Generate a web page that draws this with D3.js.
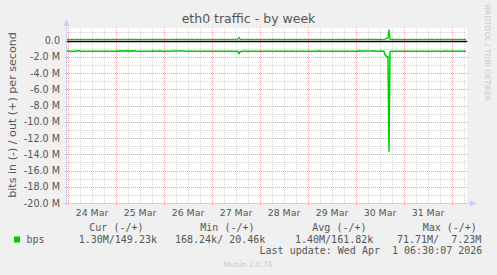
<!DOCTYPE html>
<html>
<head>
<meta charset="utf-8">
<script src="https://cdn.jsdelivr.net/npm/d3@7"></script>
<style>
  body { margin: 0; background: #f0f0f0; }
  svg { display: block; }
  text { font-family: "DejaVu Sans", sans-serif; fill: #555; }
  .mono { font-family: "DejaVu Sans Mono", monospace; }
</style>
</head>
<body>
<svg id="chart"></svg>
<script>
// 30 minute averages, Mbit/s, first sample at startTime
const startTime = new Date(Date.UTC(2026, 2, 23, 23, 30))
const stepMinutes = 30

// bits in (drawn below zero)
const inMbps = [
  1.32, 1.24, 1.32, 1.32, 1.33, 1.32, 1.31, 1.32, 1.33, 1.32, 1.24, 1.25, 1.24, 1.31, 1.32, 1.33, 1.32, 1.32, 1.31, 1.32, 1.33, 1.32, 1.32, 1.31, 1.32, 1.32, 1.33, 1.32, 1.31, 1.32, 1.32, 1.33, 1.32, 1.32, 1.31, 1.32, 1.33, 1.32, 1.32, 1.32, 1.31, 1.32, 1.33, 1.32, 1.32, 1.31, 1.32, 1.32, 1.33, 1.32,
  1.25, 1.32, 1.25, 1.31, 1.24, 1.32, 1.25, 1.24, 1.32, 1.25, 1.32, 1.24, 1.32, 1.25, 1.31, 1.24, 1.32, 1.25, 1.24, 1.32, 1.33, 1.32, 1.31, 1.32, 1.32, 1.33, 1.32, 1.31, 1.32, 1.32, 1.33, 1.32, 1.32, 1.31, 1.32, 1.33, 1.25, 1.32, 1.32, 1.31, 1.32, 1.32, 1.33, 1.25, 1.32, 1.31, 1.32, 1.33, 1.32, 1.32,
  1.32, 1.31, 1.32, 1.33, 1.29, 1.29, 1.29, 1.29, 1.29, 1.29, 1.29, 1.29, 1.29, 1.29, 1.29, 1.29, 1.29, 1.29, 1.29, 1.32, 1.33, 1.32, 1.31, 1.32, 1.32, 1.33, 1.32, 1.31, 1.32, 1.32, 1.33, 1.32, 1.32, 1.31, 1.32, 1.33, 1.32, 1.32, 1.31, 1.32, 1.32, 1.33, 1.32, 1.31, 1.32, 1.32, 1.33, 1.32, 1.32, 1.31,
  1.32, 1.33, 1.32, 1.31, 1.32, 1.32, 1.33, 1.32, 1.32, 1.31, 1.32, 1.33, 1.32, 1.32, 1.31, 1.32, 1.32, 1.33, 1.32, 1.31, 1.32, 1.38, 1.60, 1.36, 1.32, 1.33, 1.32, 1.31, 1.32, 1.32, 1.33, 1.32, 1.32, 1.31, 1.32, 1.33, 1.32, 1.32, 1.31, 1.32, 1.32, 1.33, 1.32, 1.31, 1.32, 1.32, 1.33, 1.32, 1.32, 1.31,
  1.32, 1.33, 1.32, 1.32, 1.31, 1.32, 1.33, 1.32, 1.32, 1.31, 1.32, 1.32, 1.33, 1.32, 1.31, 1.32, 1.32, 1.33, 1.32, 1.32, 1.31, 1.32, 1.33, 1.32, 1.32, 1.31, 1.32, 1.32, 1.33, 1.32, 1.31, 1.32, 1.32, 1.33, 1.32, 1.32, 1.31, 1.32, 1.33, 1.32, 1.32, 1.31, 1.32, 1.32, 1.33, 1.32, 1.31, 1.32, 1.32, 1.33,
  1.32, 1.24, 1.32, 1.31, 1.32, 1.32, 1.33, 1.32, 1.32, 1.31, 1.32, 1.33, 1.32, 1.32, 1.31, 1.32, 1.32, 1.33, 1.32, 1.31, 1.32, 1.32, 1.33, 1.32, 1.32, 1.31, 1.32, 1.33, 1.32, 1.32, 1.31, 1.32, 1.32, 1.33, 1.32, 1.31, 1.32, 1.32, 1.33, 1.32, 1.32, 1.31, 1.24, 1.32, 1.28, 1.28, 1.28, 1.28, 1.28, 1.28,
  1.28, 1.28, 1.28, 1.28, 1.28, 1.28, 1.28, 1.28, 1.32, 1.32, 1.31, 1.32, 1.33, 1.32, 1.24, 1.32, 1.31, 1.32, 1.75, 1.85, 2.00, 1.98, 13.70, 1.40, 1.32, 1.32, 1.33, 1.32, 1.31, 1.32, 1.32, 1.33, 1.32, 1.32, 1.31, 1.32, 1.33, 1.32, 1.32, 1.31, 1.32, 1.32, 1.33, 1.32, 1.31, 1.32, 1.32, 1.33, 1.32, 1.32,
  1.32, 1.31, 1.32, 1.33, 1.32, 1.32, 1.31, 1.32, 1.32, 1.33, 1.32, 1.31, 1.32, 1.32, 1.33, 1.32, 1.32, 1.31, 1.32, 1.33, 1.32, 1.32, 1.31, 1.32, 1.32, 1.33, 1.32, 1.31, 1.32, 1.25, 1.32, 1.33, 1.32, 1.32, 1.31, 1.25, 1.32, 1.32, 1.33, 1.32, 1.31, 1.32, 1.32, 1.33, 1.32, 1.32, 1.31, 1.32, 1.32, 1.30
]

// bits out (drawn above zero)
const outMbps = [
  0.14, 0.15, 0.14, 0.13, 0.14, 0.14, 0.15, 0.14, 0.13, 0.14, 0.15, 0.14, 0.14, 0.13, 0.14, 0.15, 0.14, 0.14, 0.13, 0.14, 0.14, 0.15, 0.14, 0.13, 0.14, 0.14, 0.15, 0.14, 0.13, 0.14, 0.14, 0.15, 0.14, 0.14, 0.13, 0.14, 0.15, 0.14, 0.14, 0.13, 0.14, 0.14, 0.15, 0.14, 0.13, 0.14, 0.14, 0.15, 0.14, 0.14,
  0.15, 0.14, 0.15, 0.14, 0.16, 0.14, 0.15, 0.14, 0.15, 0.16, 0.14, 0.15, 0.14, 0.15, 0.14, 0.16, 0.15, 0.14, 0.15, 0.14, 0.14, 0.13, 0.14, 0.15, 0.14, 0.14, 0.13, 0.14, 0.14, 0.15, 0.14, 0.13, 0.14, 0.14, 0.15, 0.14, 0.15, 0.14, 0.13, 0.14, 0.14, 0.15, 0.14, 0.15, 0.14, 0.13, 0.14, 0.14, 0.15, 0.14,
  0.14, 0.13, 0.14, 0.15, 0.14, 0.14, 0.14, 0.14, 0.14, 0.14, 0.14, 0.14, 0.14, 0.14, 0.14, 0.14, 0.14, 0.14, 0.14, 0.14, 0.15, 0.14, 0.13, 0.14, 0.14, 0.15, 0.14, 0.13, 0.14, 0.14, 0.15, 0.14, 0.14, 0.13, 0.14, 0.15, 0.14, 0.14, 0.13, 0.14, 0.14, 0.15, 0.14, 0.13, 0.14, 0.14, 0.15, 0.14, 0.14, 0.13,
  0.14, 0.15, 0.14, 0.13, 0.14, 0.14, 0.15, 0.14, 0.14, 0.13, 0.14, 0.15, 0.14, 0.14, 0.13, 0.14, 0.14, 0.15, 0.14, 0.13, 0.14, 0.20, 0.36, 0.18, 0.14, 0.15, 0.14, 0.13, 0.14, 0.14, 0.15, 0.14, 0.14, 0.13, 0.14, 0.15, 0.14, 0.14, 0.13, 0.14, 0.14, 0.15, 0.14, 0.13, 0.14, 0.14, 0.15, 0.14, 0.14, 0.13,
  0.14, 0.15, 0.14, 0.14, 0.13, 0.14, 0.15, 0.14, 0.14, 0.13, 0.14, 0.14, 0.15, 0.14, 0.13, 0.14, 0.14, 0.15, 0.14, 0.14, 0.13, 0.14, 0.15, 0.14, 0.14, 0.13, 0.14, 0.14, 0.15, 0.14, 0.13, 0.14, 0.14, 0.15, 0.14, 0.14, 0.13, 0.14, 0.15, 0.14, 0.14, 0.13, 0.14, 0.14, 0.15, 0.14, 0.13, 0.14, 0.14, 0.15,
  0.14, 0.15, 0.14, 0.13, 0.14, 0.14, 0.15, 0.14, 0.14, 0.13, 0.14, 0.15, 0.14, 0.14, 0.13, 0.14, 0.14, 0.15, 0.14, 0.13, 0.14, 0.14, 0.15, 0.14, 0.14, 0.13, 0.14, 0.15, 0.14, 0.14, 0.13, 0.14, 0.14, 0.15, 0.14, 0.13, 0.14, 0.14, 0.15, 0.14, 0.14, 0.13, 0.15, 0.14, 0.15, 0.15, 0.15, 0.15, 0.15, 0.15,
  0.15, 0.15, 0.15, 0.15, 0.15, 0.15, 0.15, 0.15, 0.14, 0.14, 0.13, 0.14, 0.15, 0.14, 0.15, 0.14, 0.13, 0.14, 0.16, 0.24, 0.26, 0.27, 1.36, 0.15, 0.14, 0.14, 0.15, 0.14, 0.13, 0.14, 0.14, 0.15, 0.14, 0.14, 0.13, 0.14, 0.15, 0.14, 0.14, 0.13, 0.14, 0.14, 0.15, 0.14, 0.13, 0.14, 0.14, 0.15, 0.14, 0.14,
  0.14, 0.13, 0.14, 0.15, 0.14, 0.14, 0.13, 0.14, 0.14, 0.15, 0.14, 0.13, 0.14, 0.14, 0.15, 0.14, 0.14, 0.13, 0.14, 0.15, 0.14, 0.14, 0.13, 0.14, 0.14, 0.15, 0.14, 0.13, 0.14, 0.15, 0.14, 0.15, 0.14, 0.14, 0.13, 0.15, 0.14, 0.14, 0.15, 0.14, 0.13, 0.14, 0.14, 0.15, 0.14, 0.14, 0.13, 0.14, 0.14, 0.15
]

const yTicks = [0, -2, -4, -6, -8, -10, -12, -14, -16, -18, -20]
const legendHeaders = ['Cur (-/+)', 'Min (-/+)', 'Avg (-/+)', 'Max (-/+)']
const legendValues = ['1.30M/149.23k', '168.24k/ 20.46k', '1.40M/161.82k', '71.71M/  7.23M']
const lastUpdate = 'Last update: Wed Apr  1 06:30:07 2026'

const width = 497
const height = 275
const plot = { left: 67, right: 467, top: 28, bottom: 203 }
const green = '#00cc00'
const axisColor = '#c8cef4'

const svg = d3.select('#chart')
  .attr('width', width)
  .attr('height', height)

svg.append('rect')
  .attr('width', width).attr('height', height)
  .attr('fill', '#f0f0f0')

const x = d3.scaleUtc()
  .domain([startTime, new Date(+startTime + 400 * stepMinutes * 60000)])
  .range([plot.left, plot.right])

const y = d3.scaleLinear()
  .domain([-20, 1.55])
  .range([plot.bottom, plot.top])

const timeAt = i => new Date(+startTime + i * stepMinutes * 60000)

// canvas
svg.append('rect')
  .attr('x', plot.left).attr('y', plot.top)
  .attr('width', plot.right - plot.left)
  .attr('height', plot.bottom - plot.top)
  .attr('fill', '#ffffff')

const px = v => Math.round(v) + 0.5

// minor grid
const grid = svg.append('g')
y.ticks(22).filter(v => v % 2 !== 0).forEach(v => {
  grid.append('line')
    .attr('x1', plot.left).attr('x2', plot.right)
    .attr('y1', px(y(v))).attr('y2', px(y(v)))
    .attr('stroke', '#d4d4d4').attr('stroke-dasharray', '1,1')
})
x.ticks(d3.utcHour.every(6)).filter(d => d.getUTCHours() !== 0).forEach(d => {
  grid.append('line')
    .attr('x1', px(x(d))).attr('x2', px(x(d)))
    .attr('y1', plot.top).attr('y2', plot.bottom)
    .attr('stroke', '#d4d4d4').attr('stroke-dasharray', '1,1')
})

// major grid
yTicks.forEach(v => {
  grid.append('line')
    .attr('x1', plot.left - 2).attr('x2', plot.right + 2)
    .attr('y1', px(y(v))).attr('y2', px(y(v)))
    .attr('stroke', '#eda0a0').attr('stroke-dasharray', '1,1')
})
const days = x.ticks(d3.utcDay.every(1))
days.forEach(d => {
  grid.append('line')
    .attr('x1', px(x(d))).attr('x2', px(x(d)))
    .attr('y1', plot.top).attr('y2', plot.bottom + 2)
    .attr('stroke', '#eda0a0').attr('stroke-dasharray', '1,1')
})

// axes
svg.append('line')
  .attr('x1', plot.left - 0.5).attr('x2', plot.left - 0.5)
  .attr('y1', plot.top - 2).attr('y2', plot.bottom + 3)
  .attr('stroke', axisColor)
svg.append('line')
  .attr('x1', plot.left - 3).attr('x2', plot.right + 3)
  .attr('y1', plot.bottom + 0.5).attr('y2', plot.bottom + 0.5)
  .attr('stroke', axisColor)
svg.append('path')
  .attr('d', `M${plot.left - 3.5},${plot.top - 2} L${plot.left + 2.5},${plot.top - 2} L${plot.left - 0.5},${plot.top - 9} Z`)
  .attr('fill', axisColor)
svg.append('path')
  .attr('d', `M${plot.right + 3},${plot.bottom - 2.5} L${plot.right + 3},${plot.bottom + 3.5} L${plot.right + 10},${plot.bottom + 0.5} Z`)
  .attr('fill', axisColor)

// y tick labels
svg.append('g').selectAll('text')
  .data(yTicks)
  .enter().append('text')
  .attr('x', 60)
  .attr('y', d => y(d) + 3.5)
  .attr('text-anchor', 'end')
  .style('font-size', '9.6px')
  .text(d => d === 0 ? '0.0' : `${d.toFixed(1)} M`)

// x labels at noon
const fmt = d3.utcFormat('%d %b')
svg.append('g').selectAll('text')
  .data(days.filter(d => x(new Date(+d + 12 * 3600000)) < plot.right - 10))
  .enter().append('text')
  .attr('x', d => x(new Date(+d + 12 * 3600000)))
  .attr('y', 216)
  .attr('text-anchor', 'middle')
  .style('font-size', '9.4px')
  .text(d => fmt(d))

// series
const clip = svg.append('clipPath').attr('id', 'plotclip')
clip.append('rect')
  .attr('x', plot.left).attr('y', plot.top)
  .attr('width', plot.right - plot.left)
  .attr('height', plot.bottom - plot.top)

const line = d3.line()
  .x(d => x(d.t))
  .y(d => y(d.v))

const inData = inMbps.map((v, i) => ({ t: timeAt(i), v: -v }))
const outData = outMbps.map((v, i) => ({ t: timeAt(i), v: v }))

const series = svg.append('g').attr('clip-path', 'url(#plotclip)')

series.append('path')
  .datum(inData)
  .attr('d', line)
  .attr('fill', 'none')
  .attr('stroke', green)
  .attr('stroke-width', 1.5)

// zero rule
series.append('line')
  .attr('x1', plot.left).attr('x2', plot.right)
  .attr('y1', px(y(0))).attr('y2', px(y(0)))
  .attr('stroke', '#000000')
  .attr('stroke-width', 1.3)

series.append('path')
  .datum(outData)
  .attr('d', line)
  .attr('fill', 'none')
  .attr('stroke', green)
  .attr('stroke-width', 1.3)

// title
svg.append('text')
  .attr('x', 248.5).attr('y', 23)
  .attr('text-anchor', 'middle')
  .style('font-size', '12.5px')
  .text('eth0 traffic - by week')

// vertical label
svg.append('text')
  .attr('transform', 'translate(15.5,115) rotate(-90)')
  .attr('text-anchor', 'middle')
  .style('font-size', '11.1px')
  .text('bits in (-) / out (+) per second')

svg.append('text')
  .attr('transform', 'translate(484.5,53) rotate(90)')
  .attr('text-anchor', 'middle')
  .style('font-size', '7.5px')
  .style('fill', '#c8c8c8')
  .text('RRDTOOL / TOBI OETIKER')

// legend
svg.append('rect')
  .attr('x', 14).attr('y', 236.5)
  .attr('width', 6).attr('height', 6)
  .attr('fill', green)
svg.append('text')
  .attr('class', 'mono')
  .attr('x', 26.5).attr('y', 242.5)
  .style('font-size', '10px')
  .text('bps')

const headerX = [89.3, 200.3, 312.3, 422.7]
const valueX = [78.7, 175, 295, 397]
svg.append('g').selectAll('text')
  .data(legendHeaders)
  .enter().append('text')
  .attr('class', 'mono')
  .attr('x', (d, i) => headerX[i])
  .attr('y', 231)
  .style('font-size', '10px')
  .style('white-space', 'pre')
  .text(d => d)
svg.append('g').selectAll('text')
  .data(legendValues)
  .enter().append('text')
  .attr('class', 'mono')
  .attr('x', (d, i) => valueX[i])
  .attr('y', 242.5)
  .style('font-size', '10px')
  .style('white-space', 'pre')
  .text(d => d)

svg.append('text')
  .attr('class', 'mono')
  .attr('x', 482.3).attr('y', 254.3)
  .attr('text-anchor', 'end')
  .style('font-size', '10px')
  .style('white-space', 'pre')
  .text(lastUpdate)

svg.append('text')
  .attr('x', 248).attr('y', 266.7)
  .attr('text-anchor', 'middle')
  .style('font-size', '7.5px')
  .style('fill', '#c8c8c8')
  .text('Munin 2.0.76')
</script>
</body>
</html>
